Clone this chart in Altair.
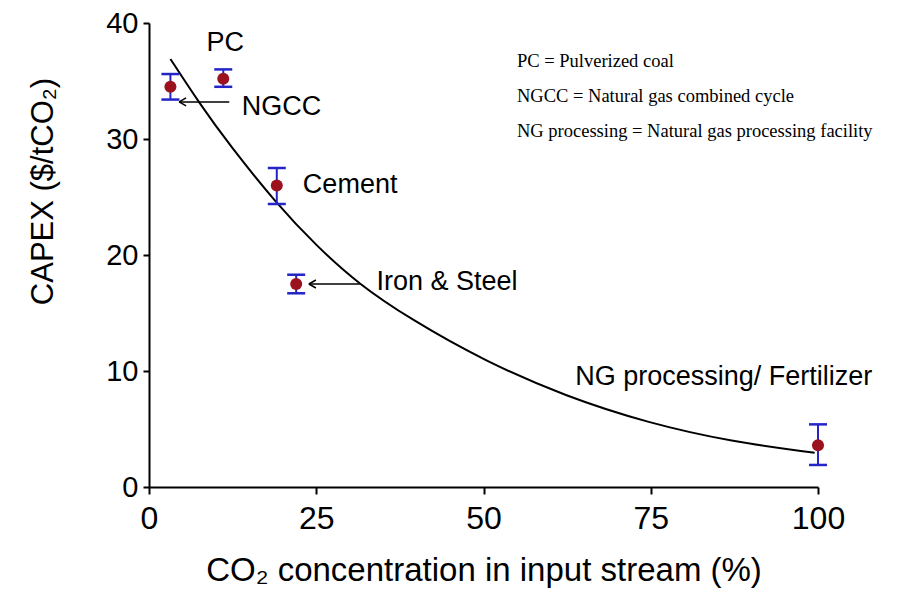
import altair as alt
import pandas as pd

# ---- data ----
src_names = ["NGCC", "PC", "Cement", "Iron & Steel", "NG processing/ Fertilizer"]
src_x = [3.2, 11.1, 19.1, 22.0, 100.0]
src_y = [34.5, 35.2, 26.0, 17.5, 3.6]
src_lo = [33.4, 34.5, 24.4, 16.7, 1.9]
src_hi = [35.6, 36.0, 27.5, 18.3, 5.4]

curve_x = [3.2, 7.5, 12.0, 19.1, 25.0, 31.3, 39.0, 50.0, 62.3, 74.7, 87.1, 99.5]
curve_y = [36.9, 33.1, 29.5, 24.4, 20.8, 17.5, 14.5, 10.9, 7.8, 5.5, 3.9, 2.95]

label_text = ["PC", "NGCC", "Cement", "Iron & Steel", "NG processing/ Fertilizer"]
label_x = [11.4, 13.85, 23.0, 34.0, 63.7]
label_y = [38.3, 32.8, 26.0, 17.7, 9.5]
label_align = ["center", "left", "left", "left", "left"]

arrow_from = [12.0, 31.5]
arrow_to = [4.5, 23.9]
arrow_y = [33.2, 17.5]

note_text = ["PC = Pulverized coal",
             "NGCC = Natural gas combined cycle",
             "NG processing = Natural gas processing facility"]
note_x = [55.0, 55.0, 55.0]
note_y = [36.7, 33.7, 30.7]

x_ticks = [0, 25, 50, 75, 100]
y_ticks = [0, 10, 20, 30, 40]

# ---- tables ----
pts = pd.DataFrame({"name": src_names, "x": src_x, "y": src_y, "lo": src_lo, "hi": src_hi})
curve = pd.DataFrame({"x": curve_x, "y": curve_y})
labels = pd.DataFrame({"t": label_text, "x": label_x, "y": label_y, "a": label_align})
arrows = pd.DataFrame({"x": arrow_to, "x2": arrow_from, "y": arrow_y})
notes = pd.DataFrame({"t": note_text, "x": note_x, "y": note_y})

SANS = "Liberation Sans"
SERIF = "Liberation Serif"
RED = "#9b111e"
BLUE = "#2424c8"

xscale = alt.Scale(domain=[0, 100], nice=False, zero=False)
yscale = alt.Scale(domain=[0, 40], nice=False, zero=False)

xaxis = alt.Axis(values=x_ticks, title="CO₂ concentration in input stream (%)",
                 titleFont=SANS, titleFontSize=33, titleFontWeight="normal", titleColor="black",
                 titleY=83, titleBaseline="middle",
                 labelFont=SANS, labelFontSize=32, labelColor="black", labelPadding=9,
                 labelFlush=False, labelOverlap=False,
                 tickSize=7, tickWidth=2, tickColor="black",
                 domainColor="black", domainWidth=2, grid=False)
yaxis = alt.Axis(values=y_ticks, title="CAPEX ($/tCO₂)",
                 titleFont=SANS, titleFontSize=31, titleFontWeight="normal", titleColor="black",
                 titleX=-106, titleY=168, titleBaseline="middle", titleAlign="center",
                 labelFont=SANS, labelFontSize=29, labelColor="black", labelPadding=5,
                 labelFlush=False, labelOverlap=False,
                 tickSize=6, tickWidth=2, tickColor="black",
                 domainColor="black", domainWidth=2, grid=False)


def X(f="x"):
    return alt.X(f + ":Q", scale=xscale, axis=xaxis)


def Y(f="y"):
    return alt.Y(f + ":Q", scale=yscale, axis=yaxis)


line = alt.Chart(curve).mark_line(color="black", strokeWidth=2, interpolate="basis").encode(
    x=X(), y=Y())

err = alt.Chart(pts).mark_rule(color=BLUE, strokeWidth=2, opacity=1).encode(
    x=X(), y=Y("lo"), y2="hi:Q")
cap_lo = alt.Chart(pts).mark_tick(color=BLUE, orient="horizontal", size=18, thickness=2.5,
                                  opacity=1).encode(x=X(), y=Y("lo"))
cap_hi = alt.Chart(pts).mark_tick(color=BLUE, orient="horizontal", size=18, thickness=2.5,
                                  opacity=1).encode(x=X(), y=Y("hi"))
dots = alt.Chart(pts).mark_point(filled=True, shape="circle", size=145, color=RED, opacity=1).encode(
    x=X(), y=Y())

arrow_line = alt.Chart(arrows).mark_rule(color="black", strokeWidth=1.5).encode(
    x=X(), x2="x2:Q", y=Y())
arrow_head = alt.Chart(arrows).mark_point(shape="M0,0 L1.75,-1 M0,0 L1.75,1", size=64,
                                          filled=False, color="black", strokeWidth=1.5,
                                          opacity=1).encode(x=X(), y=Y())

lab_center = alt.Chart(labels[labels.a == "center"]).mark_text(
    font=SANS, fontSize=27, color="black", align="center", baseline="middle").encode(
    x=X(), y=Y(), text="t:N")
lab_left = alt.Chart(labels[labels.a == "left"]).mark_text(
    font=SANS, fontSize=27, color="black", align="left", baseline="middle").encode(
    x=X(), y=Y(), text="t:N")

note = alt.Chart(notes).mark_text(
    font=SERIF, fontSize=18.5, color="black", align="left", baseline="middle").encode(
    x=X(), y=Y(), text="t:N")

chart = alt.layer(line, err, cap_lo, cap_hi, dots, arrow_line, arrow_head,
                  lab_center, lab_left, note).properties(
    width=669, height=464,
    autosize=alt.AutoSizeParams(type="none"),
    padding={"left": 149, "top": 23, "right": 81, "bottom": 110},
    background="white",
).configure_view(stroke=None)

chart.save("out.html", embed_options={"renderer": "svg", "actions": False})
